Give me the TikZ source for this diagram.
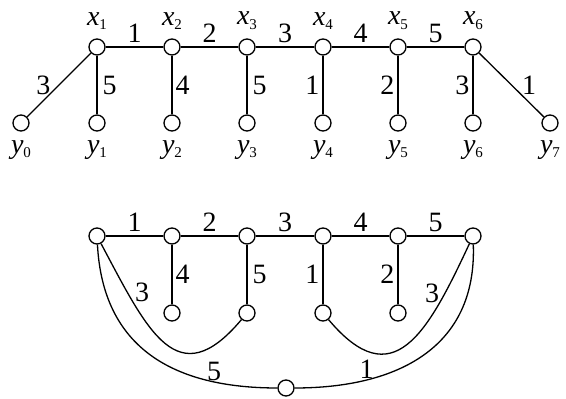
\documentclass[tikz,border=0pt]{standalone}
\usepackage{fontspec}
\setmainfont{Liberation Serif}
\usetikzlibrary{positioning}
\newcommand{\vname}[2]{\textit{#1}{\fontsize{15}{15}\selectfont\raisebox{-0.6ex}{#2}}}
\tikzset{
	vtx/.style={circle,draw,fill=white,minimum size=16pt,inner sep=0pt,line width=1.3pt},
	wt/.style={font=\fontsize{28}{28}\selectfont,inner sep=4pt},
	vlbl/.style={font=\fontsize{28}{28}\selectfont,inner sep=1pt},
	edge/.style={line width=1.3pt}
}
\begin{document}
\begin{tikzpicture}[x=1pt,y=1pt]
			\useasboundingbox (0,0) rectangle (566,399);
			% upper tree
			\node[vtx] (x1) at (97,352) {};
			\node[vtx] (x2) at (172,352) {};
			\node[vtx] (x3) at (247,352) {};
			\node[vtx] (x4) at (323,352) {};
			\node[vtx] (x5) at (398,352) {};
			\node[vtx] (x6) at (473,352) {};
			\node[vtx] (y0) at (21,276) {};
			\node[vtx] (y1) at (97,276) {};
			\node[vtx] (y2) at (172,276) {};
			\node[vtx] (y3) at (247,276) {};
			\node[vtx] (y4) at (323,276) {};
			\node[vtx] (y5) at (398,276) {};
			\node[vtx] (y6) at (473,276) {};
			\node[vtx] (y7) at (550,276) {};
			\node[vlbl,above=8pt of x1] (tx1) {\vname{x}{1}};
			\node[vlbl,above=8pt of x2] (tx2) {\vname{x}{2}};
			\node[vlbl,above=8pt of x3] (tx3) {\vname{x}{3}};
			\node[vlbl,above=8pt of x4] (tx4) {\vname{x}{4}};
			\node[vlbl,above=8pt of x5] (tx5) {\vname{x}{5}};
			\node[vlbl,above=8pt of x6] (tx6) {\vname{x}{6}};
			\node[vlbl,below=8pt of y0] (ty0) {\vname{y}{0}};
			\node[vlbl,below=8pt of y1] (ty1) {\vname{y}{1}};
			\node[vlbl,below=8pt of y2] (ty2) {\vname{y}{2}};
			\node[vlbl,below=8pt of y3] (ty3) {\vname{y}{3}};
			\node[vlbl,below=8pt of y4] (ty4) {\vname{y}{4}};
			\node[vlbl,below=8pt of y5] (ty5) {\vname{y}{5}};
			\node[vlbl,below=8pt of y6] (ty6) {\vname{y}{6}};
			\node[vlbl,below=8pt of y7] (ty7) {\vname{y}{7}};
			\draw[edge] (x1) -- node[wt,above] {1} (x2);
			\draw[edge] (x2) -- node[wt,above] {2} (x3);
			\draw[edge] (x3) -- node[wt,above] {3} (x4);
			\draw[edge] (x4) -- node[wt,above] {4} (x5);
			\draw[edge] (x5) -- node[wt,above] {5} (x6);
			\draw[edge] (x1) -- node[wt,left=4pt] {3} (y0);
			\draw[edge] (x1) -- node[wt,right=1pt] {5} (y1);
			\draw[edge] (x2) -- node[wt,right=-1pt] {4} (y2);
			\draw[edge] (x3) -- node[wt,right=1pt] {5} (y3);
			\draw[edge] (x4) -- node[wt,left=-1pt] {1} (y4);
			\draw[edge] (x5) -- node[wt,left=-1pt] {2} (y5);
			\draw[edge] (x6) -- node[wt,left=-1pt] {3} (y6);
			\draw[edge] (x6) -- node[wt,right=6pt] {1} (y7);
			% lower graph
			\node[vtx] (a1) at (97,163) {};
			\node[vtx] (a2) at (172,163) {};
			\node[vtx] (a3) at (247,163) {};
			\node[vtx] (a4) at (323,163) {};
			\node[vtx] (a5) at (398,163) {};
			\node[vtx] (a6) at (473,163) {};
			\node[vtx] (b2) at (172,86) {};
			\node[vtx] (b3) at (247,86) {};
			\node[vtx] (b4) at (323,86) {};
			\node[vtx] (b5) at (398,86) {};
			\node[vtx] (c) at (286,11) {};
			\draw[edge] (a1) -- node[wt,above] {1} (a2);
			\draw[edge] (a2) -- node[wt,above] {2} (a3);
			\draw[edge] (a3) -- node[wt,above] {3} (a4);
			\draw[edge] (a4) -- node[wt,above] {4} (a5);
			\draw[edge] (a5) -- node[wt,above] {5} (a6);
			\draw[edge] (a2) -- node[wt,right=-1pt] {4} (b2);
			\draw[edge] (a3) -- node[wt,right=1pt] {5} (b3);
			\draw[edge] (a4) -- node[wt,left=-1pt] {1} (b4);
			\draw[edge] (a5) -- node[wt,left=-1pt] {2} (b5);
			\draw[edge] (a1) to[out=-62,in=-130,looseness=1.6] node[wt,pos=0.2,right=3pt] {3} (b3);
			\draw[edge] (b4) to[out=-50,in=-115,looseness=1.6] node[wt,pos=0.8,left=1pt] {3} (a6);
			\draw[edge] (a1) to[out=-87,in=180,looseness=1.15] node[wt,pos=0.78,above=-3pt] {5} (c);
			\draw[edge] (c) to[out=0,in=-88,looseness=1.15] node[wt,pos=0.25,above=-3pt] {1} (a6);
		\end{tikzpicture}
\end{document}
